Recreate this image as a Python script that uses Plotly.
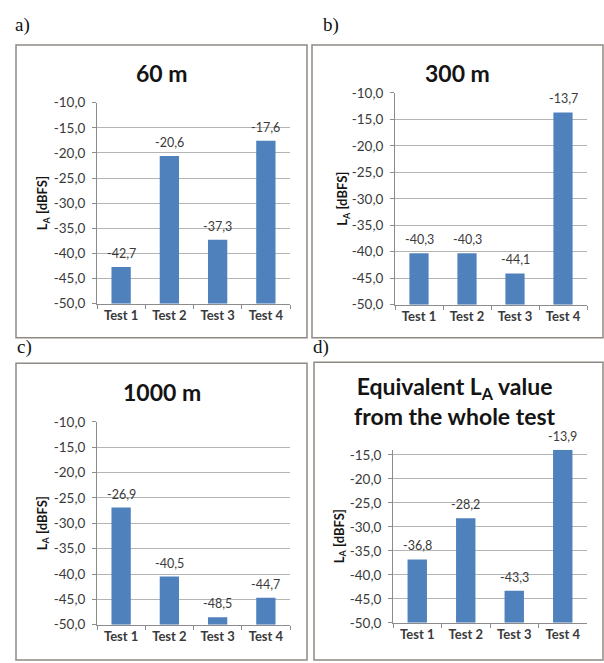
import plotly.graph_objects as go

W, H = 604, 663

categories = ["Test 1", "Test 2", "Test 3", "Test 4"]
values_60m = [-42.7, -20.6, -37.3, -17.6]
values_300m = [-40.3, -40.3, -44.1, -13.7]
values_1000m = [-26.9, -40.5, -48.5, -44.7]
values_equiv = [-36.8, -28.2, -43.3, -13.9]

panel_titles = ["60 m", "300 m", "1000 m", "Equivalent L<sub>A</sub> value<br>from the whole test"]
panel_letters = ["a)", "b)", "c)", "d)"]
tick_vals_full = [-10, -15, -20, -25, -30, -35, -40, -45, -50]
tick_text_full = ["-10,0", "-15,0", "-20,0", "-25,0", "-30,0", "-35,0", "-40,0", "-45,0", "-50,0"]
tick_vals_equiv = [-15, -20, -25, -30, -35, -40, -45, -50]
tick_text_equiv = ["-15,0", "-20,0", "-25,0", "-30,0", "-35,0", "-40,0", "-45,0", "-50,0"]
y_title = "L<sub>A</sub> [dBFS]"
AXIS_FLOOR = -50  # bars rise from the bottom of the value axis

BAR = "#4F81BD"
GRID = "#b4b4b4"
AXIS = "#8c8c8c"
TXT = "#3a3a3a"
FRAME = "#8e8984"
FONT = "Lato, 'DejaVu Sans', sans-serif"


def px(x):
    return x / W


def py(y):
    return 1 - y / H


# per panel: plot area (x0, x1, ytop, ybottom), y range, ticks, frame box,
# title centre, axis-title x, letter position
panels = [
    dict(vals=values_60m, area=(97, 290, 97, 303), yr=[-50, -10],
         tv=tick_vals_full, tt=tick_text_full, frame=(16, 307, 38, 338),
         title=(162, 67), ytx=43, letter=(13, 17)),
    dict(vals=values_300m, area=(395, 587, 87, 304), yr=[-50, -10],
         tv=tick_vals_full, tt=tick_text_full, frame=(312, 603, 38, 338),
         title=(457, 67), ytx=343, letter=(321, 17)),
    dict(vals=values_1000m, area=(97, 290, 424, 632), yr=[-50, -10],
         tv=tick_vals_full, tt=tick_text_full, frame=(16, 307, 364, 668),
         title=(162, 393), ytx=43, letter=(15, 347)),
    dict(vals=values_equiv, area=(393, 587, 452.6, 630), yr=[-50, -13.9],
         tv=tick_vals_equiv, tt=tick_text_equiv, frame=(314, 603, 363, 668),
         title=(455, 403), ytx=340, letter=(311, 347)),
]

fig = go.Figure()
layout = dict(
    width=W, height=H, margin=dict(l=0, r=0, t=0, b=0),
    paper_bgcolor="white", plot_bgcolor="white", showlegend=False,
    bargap=0.6, font=dict(family=FONT, color=TXT),
)
annotations = []
shapes = []

for i, p in enumerate(panels):
    n = "" if i == 0 else str(i + 1)
    x0, x1, yt, yb = p["area"]
    labels = [f"{v:.1f}".replace(".", ",") for v in p["vals"]]
    heights = [v - AXIS_FLOOR for v in p["vals"]]
    fig.add_trace(go.Bar(
        x=categories, y=heights, base=AXIS_FLOOR,
        xaxis="x" + n, yaxis="y" + n,
        marker=dict(color=BAR, line=dict(width=0)),
        customdata=p["vals"], hovertemplate="%{x}: %{customdata}<extra></extra>",
    ))
    # value labels sitting just above each bar
    for cat, v, lab in zip(categories, p["vals"], labels):
        annotations.append(dict(
            text=lab, xref="x" + n, yref="y" + n, x=cat, y=v,
            xanchor="center", yanchor="bottom", yshift=4, showarrow=False,
            font=dict(family=FONT, size=12.5, color=TXT),
        ))
    layout["xaxis" + n] = dict(
        domain=[px(x0), px(x1)], anchor="y" + n,
        showline=True, linecolor=AXIS, linewidth=1,
        ticks="outside", tickson="boundaries", ticklen=4, tickcolor=AXIS,
        showgrid=False, fixedrange=True,
        tickfont=dict(family=FONT, size=13, color=TXT, weight="bold"),
    )
    layout["yaxis" + n] = dict(
        domain=[py(yb), py(yt)], anchor="x" + n, range=p["yr"],
        tickvals=p["tv"], ticktext=p["tt"],
        showline=True, linecolor=AXIS, linewidth=1,
        ticks="outside", ticklen=4, tickcolor=AXIS, ticklabelstandoff=4,
        showgrid=True, gridcolor=GRID, gridwidth=1, zeroline=False,
        tickfont=dict(family=FONT, size=13.5, color=TXT), fixedrange=True,
    )
    fx0, fx1, fy0, fy1 = p["frame"]
    shapes.append(dict(type="rect", xref="paper", yref="paper",
                       x0=px(fx0), x1=px(fx1), y0=py(fy1), y1=py(fy0),
                       line=dict(color=FRAME, width=1.5), layer="below"))
    tx, ty = p["title"]
    annotations.append(dict(
        text=panel_titles[i], xref="paper", yref="paper",
        x=px(tx), y=py(ty), xanchor="center", yanchor="middle", showarrow=False,
        font=dict(family=FONT, size=23, color="#141414", weight="bold"),
    ))
    annotations.append(dict(
        text=y_title, xref="paper", yref="paper", textangle=-90,
        x=px(p["ytx"]), y=py((yt + yb) / 2), xanchor="center", yanchor="middle",
        showarrow=False,
        font=dict(family=FONT, size=13, color="#141414", weight="bold"),
    ))
    lx, ly = p["letter"]
    annotations.append(dict(
        text=panel_letters[i], xref="paper", yref="paper",
        x=px(lx), y=py(ly), xanchor="left", yanchor="middle", showarrow=False,
        font=dict(family="'Liberation Serif', 'Times New Roman', serif", size=19,
                  color="#111111"),
    ))

layout["annotations"] = annotations
layout["shapes"] = shapes
fig.update_layout(**layout)
fig.write_html("out.html")
